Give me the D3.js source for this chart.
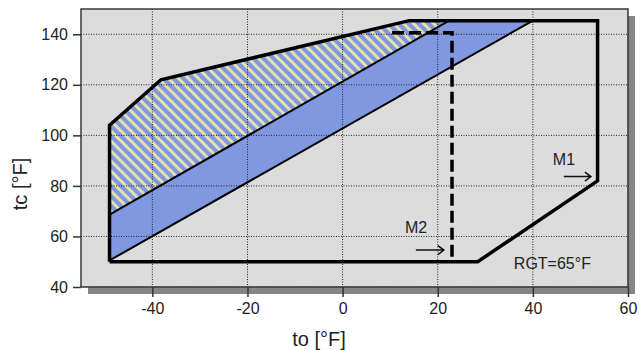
<!DOCTYPE html>
<html><head><meta charset="utf-8">
<script src="https://cdn.jsdelivr.net/npm/d3@7"></script>
<style>body{margin:0;background:#fff}svg{display:block}text{font-family:Arial,"Liberation Sans",sans-serif}</style>
</head><body>
<svg id="c" width="640" height="350"></svg>
<script>
// ---- data (°F) ----
const xTicks = [-40, -20, 0, 20, 40, 60];
const yTicks = [40, 60, 80, 100, 120, 140];
const envelopeTo = [-49, -49, -38.2, 14, 53.6, 53.6, 28.4, -49];
const envelopeTc = [50, 104, 122, 145.4, 145.4, 82, 50, 50];
const lowerLineTo = [-49, 40];
const lowerLineTc = [50.5, 145.4];
const upperLineTo = [-49, 22.4];
const upperLineTc = [68.6, 145.4];
const m2LimitTo = [10.4, 23, 23];
const m2LimitTc = [140.6, 140.6, 50];
const labels = [
  {text: "M1", to: 44.2, tc: 88.3},
  {text: "M2", to: 13.1, tc: 61.2},
  {text: "RGT=65°F", to: 36, tc: 47.2}
];
const arrows = [
  {to0: 46.5, to1: 52.2, tc: 83.7},
  {to0: 15.4, to1: 21.3, tc: 54.6}
];

const svg = d3.select("#c");
const L = 81, R = 628, T = 9, B = 287;
const x = d3.scaleLinear().domain([-55, 60]).range([L, R]);
const y = d3.scaleLinear().domain([40, 150]).range([B, T]);
const pts = (a, b) => a.map((v, i) => [x(v), y(b[i])]);
const line = d3.line();

// hatch pattern
const P = 10;
const defs = svg.append("defs");
const pat = defs.append("pattern").attr("id", "hatch").attr("patternUnits", "userSpaceOnUse")
  .attr("width", P).attr("height", P);
pat.append("rect").attr("width", P).attr("height", P).attr("fill", "#7f98e0");
[[[-3, P - 3], [3, P + 3]], [[0, 0], [P, P]], [[P - 3, -3], [P + 3, 3]]].forEach(s =>
  pat.append("line").attr("x1", s[0][0]).attr("y1", s[0][1]).attr("x2", s[1][0]).attr("y2", s[1][1])
    .attr("stroke", "#e8e2aa").attr("stroke-width", 3));
defs.append("clipPath").attr("id", "clip").append("rect").attr("x", L).attr("y", T).attr("width", R - L).attr("height", B - T);

// shadow + background
svg.append("rect").attr("x", L + 7).attr("y", T + 7).attr("width", R - L).attr("height", B - T).attr("fill", "#858585");
svg.append("rect").attr("x", L).attr("y", T).attr("width", R - L).attr("height", B - T).attr("fill", "#dcdcdc");

const g = svg.append("g").attr("clip-path", "url(#clip)");

const envPts = pts(envelopeTo, envelopeTc);
const lowPts = pts(lowerLineTo, lowerLineTc);
const upPts = pts(upperLineTo, upperLineTc);
const blueRegion = [envPts[0], envPts[1], envPts[2], envPts[3], lowPts[1], lowPts[0]];
g.append("path").attr("d", line(blueRegion) + "Z").attr("fill", "#7f98e0");
const hatchRegion = [upPts[0], envPts[1], envPts[2], envPts[3], upPts[1]];
g.append("path").attr("d", line(hatchRegion) + "Z").attr("fill", "url(#hatch)");

// grid
g.selectAll(".gx").data(xTicks).join("line").attr("x1", d => x(d)).attr("x2", d => x(d))
  .attr("y1", T).attr("y2", B).attr("stroke", "#222").attr("stroke-width", 1).attr("stroke-dasharray", "1,1.5");
g.selectAll(".gy").data(yTicks).join("line").attr("y1", d => y(d)).attr("y2", d => y(d))
  .attr("x1", L).attr("x2", R).attr("stroke", "#222").attr("stroke-width", 1).attr("stroke-dasharray", "1,1.5");

// thin lines
g.append("path").attr("d", line(lowPts)).attr("stroke", "#000").attr("stroke-width", 2).attr("fill", "none");
g.append("path").attr("d", line(upPts)).attr("stroke", "#000").attr("stroke-width", 2).attr("fill", "none");

// M2 dashed limit
g.append("path").attr("d", line(pts(m2LimitTo, m2LimitTc))).attr("stroke", "#000").attr("stroke-width", 3.5)
  .attr("fill", "none").attr("stroke-dasharray", "12,5");

// envelope
g.append("path").attr("d", line(envPts)).attr("stroke", "#000").attr("stroke-width", 3.5)
  .attr("fill", "none").attr("stroke-linejoin", "miter");

// frame
svg.append("rect").attr("x", L).attr("y", T).attr("width", R - L).attr("height", B - T)
  .attr("fill", "none").attr("stroke", "#3a3a3a").attr("stroke-width", 1.5);

// axes
const fmt = d => String(d);
const xa = svg.append("g").attr("transform", `translate(0,${B})`)
  .call(d3.axisBottom(x).tickValues(xTicks).tickFormat(fmt).tickSize(10).tickSizeOuter(0).tickPadding(6));
const ya = svg.append("g").attr("transform", `translate(${L},0)`)
  .call(d3.axisLeft(y).tickValues(yTicks).tickFormat(fmt).tickSize(8).tickSizeOuter(0).tickPadding(5));
[xa, ya].forEach(a => {
  a.select(".domain").remove();
  a.selectAll("line").attr("stroke", "#333").attr("stroke-width", 1.5);
  a.selectAll("text").attr("font-size", 16).attr("fill", "#222");
});

// titles
svg.append("text").attr("x", 319).attr("y", 346).attr("text-anchor", "middle").attr("font-size", 20)
  .attr("fill", "#222").text("to [°F]");
svg.append("text").attr("transform", "translate(27,184) rotate(-90)").attr("text-anchor", "middle")
  .attr("font-size", 20).attr("fill", "#222").text("tc [°F]");

// annotations
svg.selectAll(".lab").data(labels).join("text").attr("x", d => x(d.to)).attr("y", d => y(d.tc))
  .attr("font-size", 16).attr("fill", "#222").text(d => d.text);
arrows.forEach(a => {
  const x0 = x(a.to0), x1 = x(a.to1), yy = y(a.tc);
  svg.append("path").attr("d", `M${x0},${yy}L${x1},${yy}M${x1 - 6},${yy - 4.5}L${x1},${yy}L${x1 - 6},${yy + 4.5}`)
    .attr("stroke", "#111").attr("stroke-width", 1.5).attr("fill", "none");
});
</script>
</body></html>
